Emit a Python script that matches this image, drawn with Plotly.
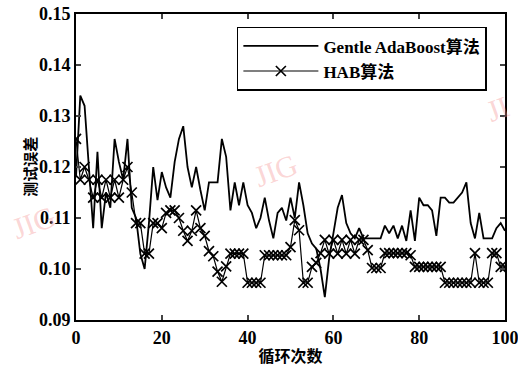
import plotly.graph_objects as go

iterations = list(range(0, 101))

gentle_adaboost = [
    0.118, 0.134, 0.132, 0.119, 0.108, 0.123, 0.108, 0.115, 0.112, 0.1255,
    0.121, 0.1175, 0.1255, 0.112, 0.110, 0.103, 0.100, 0.109, 0.120, 0.1135,
    0.119, 0.116, 0.114, 0.121, 0.1255, 0.128, 0.120, 0.116, 0.120, 0.1155,
    0.1115, 0.117, 0.117, 0.117, 0.1255, 0.122, 0.1115, 0.117, 0.1125, 0.117,
    0.1125, 0.111, 0.108, 0.110, 0.114, 0.1095, 0.106, 0.111, 0.112, 0.1095,
    0.114, 0.110, 0.117, 0.1125, 0.107, 0.105, 0.104, 0.100, 0.0945, 0.102,
    0.107, 0.112, 0.1145, 0.109, 0.107, 0.106, 0.108, 0.106, 0.106, 0.106,
    0.106, 0.106, 0.1085, 0.107, 0.1085, 0.106, 0.1085, 0.1055, 0.1115, 0.1055,
    0.114, 0.1125, 0.1125, 0.1115, 0.1065, 0.114, 0.114, 0.113, 0.113, 0.114,
    0.115, 0.117, 0.109, 0.106, 0.111, 0.106, 0.106, 0.106, 0.108, 0.109,
    0.1075,
]

hab = [
    0.1255, 0.1175, 0.120, 0.1175, 0.114, 0.1175, 0.114, 0.1175, 0.114, 0.1175,
    0.114, 0.1175, 0.120, 0.115, 0.109, 0.109, 0.103, 0.103, 0.109, 0.109,
    0.108, 0.111, 0.1115, 0.1115, 0.110, 0.1075, 0.1055, 0.1075, 0.1115, 0.108,
    0.1065, 0.1035, 0.1025, 0.0995, 0.0975, 0.1005, 0.103, 0.103, 0.103, 0.103,
    0.0973, 0.0973, 0.0973, 0.0973, 0.1027, 0.1027, 0.1027, 0.1027, 0.1027, 0.1027,
    0.1043, 0.1096, 0.1076, 0.0973, 0.0973, 0.1004, 0.1012, 0.1031, 0.1057, 0.103,
    0.1057, 0.103, 0.1057, 0.103, 0.1057, 0.103, 0.1057, 0.1057, 0.1037, 0.1002,
    0.1002, 0.1002, 0.1031, 0.1031, 0.1031, 0.1031, 0.1031, 0.1031, 0.1027, 0.1004,
    0.1004, 0.1004, 0.1004, 0.1004, 0.1004, 0.1004, 0.0973, 0.0973, 0.0973, 0.0973,
    0.0973, 0.0973, 0.0973, 0.1031, 0.0973, 0.0973, 0.0973, 0.1031, 0.1031, 0.1004,
    0.1004,
]

x_ticks = [0, 20, 40, 60, 80, 100]
y_ticks = [0.09, 0.10, 0.11, 0.12, 0.13, 0.14, 0.15]
y_tick_labels = ["0.09", "0.10", "0.11", "0.12", "0.13", "0.14", "0.15"]

series_names = ["Gentle AdaBoost算法", "HAB算法"]
x_title = "循环次数"
y_title = "测试误差"

serif = '"Liberation Serif", "Noto Sans CJK SC", serif'
cjk = '"Noto Sans CJK SC", sans-serif'

fig = go.Figure()
fig.add_trace(go.Scatter(
    x=iterations, y=gentle_adaboost, mode="lines", name=series_names[0],
    line=dict(color="black", width=1.8),
))
fig.add_trace(go.Scatter(
    x=iterations, y=hab, mode="lines+markers", name=series_names[1],
    line=dict(color="black", width=1.2),
    marker=dict(symbol="x-thin", size=10, line=dict(color="black", width=1.7)),
))

# watermarks
for (wx, wy, txt, anchor) in [(0.464, 0.49, "JIG", "center"), (-0.10, 0.32, "JIG", "center"),
                              (1.027, 0.69, "JI", "right")]:
    fig.add_annotation(
        x=wx, y=wy, xref="paper", yref="paper", text=txt, showarrow=False,
        xanchor=anchor, yanchor="middle",
        font=dict(family=serif, size=30, color="rgba(245,150,150,0.4)"),
        textangle=-20,
    )

# y-axis title placed as in the reference
fig.add_annotation(
    x=-0.11, y=0.5, xref="paper", yref="paper", text=y_title, showarrow=False,
    xanchor="center", yanchor="middle",
    textangle=-90, font=dict(family=cjk, size=15, color="black", weight="bold"),
)

fig.update_layout(
    width=518, height=368,
    margin=dict(l=76, r=13, t=14, b=48),
    paper_bgcolor="white", plot_bgcolor="white",
    showlegend=True,
    legend=dict(
        x=0.375, y=0.958, xanchor="left", yanchor="top",
        bgcolor="white", bordercolor="black", borderwidth=1.5,
        font=dict(family=serif, size=17, color="black", weight="bold"),
        itemwidth=75, tracegroupgap=4,
    ),
    xaxis=dict(
        range=[0, 100], tickvals=x_ticks, ticks="inside", ticklen=5, tickwidth=1.5,
        showline=True, linecolor="black", linewidth=2, mirror="ticks",
        showgrid=False, zeroline=False, automargin=False, ticklabeloverflow="allow",
        tickfont=dict(family=serif, size=18, color="black", weight="bold"),
        title=dict(text=x_title, font=dict(family=cjk, size=16, color="black", weight="bold"), standoff=4),
    ),
    yaxis=dict(
        range=[0.09, 0.15], tickvals=y_ticks, ticktext=y_tick_labels,
        ticks="inside", ticklen=5, tickwidth=1.5,
        showline=True, linecolor="black", linewidth=2, mirror="ticks",
        showgrid=False, zeroline=False, automargin=False, ticklabeloverflow="allow",
        tickfont=dict(family=serif, size=18, color="black", weight="bold"),
    ),
)

fig.write_html("out.html", config={"displayModeBar": False},
               post_script="document.body.style.margin='0';")
